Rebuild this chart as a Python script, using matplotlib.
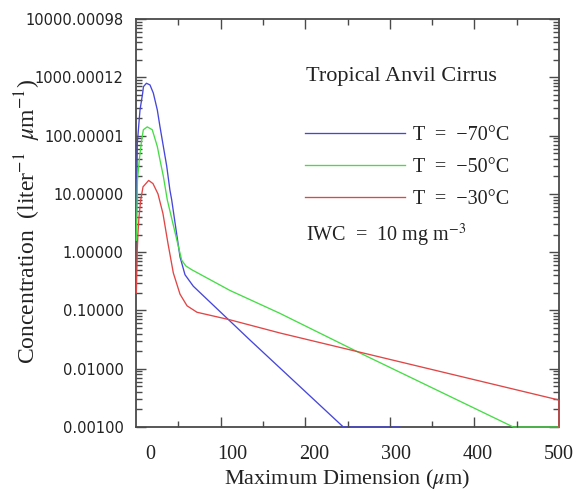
import numpy as np
import matplotlib
matplotlib.use("Agg")
import matplotlib.pyplot as plt
from matplotlib.ticker import FixedLocator, FixedFormatter, LogLocator, NullFormatter
from matplotlib.lines import Line2D

# ---- data ----
blue_x = [-17.6, -16.4, -13.1, -9.8, -8.9, -5.2, -0.9, 3.2, 8.1, 11.4, 15.5, 19.6, 23.5, 25.7,
          35.9, 42.0, 52.2, 121.6, 235.9, 305.0]
blue_y = [2.1, 74, 275, 537, 690, 790, 740, 537, 275, 141, 65, 30, 11.7, 7.9,
          0.83, 0.41, 0.26, 0.031, 0.001, 0.001]

green_x = [-17.6, -16.2, -14.0, -11.1, -9.0, -4.2, 1.9, 8.1, 11.4, 15.5, 20.3, 37.9, 43.0, 50.2,
           97.1, 158.3, 256.3, 342.0, 444.0, 500.0]
green_y = [1.6, 17, 38, 83, 126, 141, 126, 65, 38, 20, 7.9, 0.73, 0.58, 0.50,
           0.22, 0.089, 0.0186, 0.0049, 0.001, 0.001]

red_x = [-17.6, -16.4, -15.6, -14.3, -12.2, -9.4, -2.5, 2.8, 8.9, 15.0, 21.2, 27.7, 35.9, 44.5,
         56.7, 97.1, 158.3, 500.0, 500.0]
red_y = [0.2, 1.1, 2.1, 4.1, 7.9, 13.2, 17, 15, 10, 4.6, 1.4, 0.44, 0.19, 0.12,
         0.093, 0.069, 0.041, 0.0029, 0.001]

series_labels = ["T  =  \u221270\u00b0C", "T  =  \u221250\u00b0C", "T  =  \u221230\u00b0C"]
series_colors = ["#4646dc", "#46dc46", "#e04646"]

x_tick_values = [0, 100, 200, 300, 400, 500]
x_tick_labels = ["0", "100", "200", "300", "400", "500"]
y_tick_values = [0.001, 0.01, 0.1, 1, 10, 100, 1000, 10000]
y_tick_labels = ["0.00100", "0.01000", "0.10000", "1.00000", "10.00000",
                 "100.00001", "1000.00012", "10000.00098"]

title_text = "Tropical Anvil Cirrus"
iwc_text = "IWC  =  10 mg m$^{-3}$"
xlabel = "Maximum Dimension ($\\mu$m)"
ylabel = "Concentration  (liter$^{-1}$  $\\mu$m$^{-1}$)"

# ---- figure ----
plt.rcParams["mathtext.fontset"] = "stix"
serif = "Liberation Serif"
txt_c = "#222222"
fig = plt.figure(figsize=(5.87, 4.92), dpi=100)
ax = fig.add_axes([136 / 587, 65 / 492, 423 / 587, 408 / 492])

xmin, xmax = -18, 500
ax.set_xlim(xmin, xmax)
ax.set_yscale("log")
ax.set_ylim(0.001, 10000)

for xs, ys, c in zip([blue_x, green_x, red_x], [blue_y, green_y, red_y], series_colors):
    ax.plot(xs, ys, color=c, lw=0.95, zorder=3, clip_on=False)

spine_c = "#4a4a4a"
for s in ax.spines.values():
    s.set_color(spine_c)
    s.set_linewidth(1.3)

# y ticks
ax.yaxis.set_major_locator(FixedLocator(y_tick_values))
ax.yaxis.set_major_formatter(FixedFormatter(y_tick_labels))
ax.yaxis.set_minor_locator(LogLocator(base=10, subs=np.arange(2, 10)))
ax.yaxis.set_minor_formatter(NullFormatter())
ax.tick_params(axis="y", which="both", direction="in", left=True, right=True,
               color=spine_c, width=1.0)
ax.tick_params(axis="y", which="major", length=7.5, pad=9, labelsize=10.5)
ax.tick_params(axis="y", which="minor", length=4)
for lab in ax.get_yticklabels():
    lab.set_fontfamily("DejaVu Sans")
    lab.set_color(txt_c)

# x labels (no marks) on main axis
ax.set_xticks(x_tick_values)
ax.set_xticklabels(x_tick_labels, fontfamily=serif, fontsize=14.5, color=txt_c)
ax.tick_params(axis="x", which="major", length=0, pad=13, top=False)
ax.tick_params(axis="x", which="minor", bottom=False, top=False)

# x tick marks evenly spaced along the axis (top and bottom)
tx = ax.twiny()
tx.set_xlim(xmin, xmax)
edges = np.linspace(xmin, xmax, 11)[1:-1]
tx.set_xticks(edges[1::2])
tx.set_xticks(edges[0::2], minor=True)
tx.tick_params(axis="x", which="both", direction="in", top=True, bottom=True,
               labeltop=False, labelbottom=False, color=spine_c, width=1.0)
tx.tick_params(axis="x", which="major", length=7)
tx.tick_params(axis="x", which="minor", length=4)
for s in tx.spines.values():
    s.set_visible(False)

ax.set_xlabel(xlabel, fontfamily=serif, fontsize=16, color=txt_c)
ax.xaxis.set_label_coords(0.5, -0.097)
ax.set_ylabel(ylabel, fontfamily=serif, fontsize=17, color=txt_c)
ax.yaxis.set_label_coords(-0.22, 0.505)

# legend-like annotation
ax.text(0.402, 0.860, title_text, transform=ax.transAxes, fontfamily=serif,
        fontsize=16, va="center", ha="left", color=txt_c)
handles = [Line2D([], [], color=c, lw=0.95) for c in series_colors]
leg = ax.legend(handles, series_labels, loc="upper left",
                bbox_to_anchor=(0.399, 0.737), frameon=False,
                prop={"family": serif, "size": 14.5}, handlelength=5.0,
                handletextpad=0.35, labelspacing=0.62, borderpad=0, borderaxespad=0)
for t in leg.get_texts():
    t.set_color(txt_c)
ax.text(0.402, 0.470, iwc_text, transform=ax.transAxes, fontfamily=serif,
        fontsize=14.5, va="center", ha="left", color=txt_c)

fig.savefig("out.png", dpi=100)
